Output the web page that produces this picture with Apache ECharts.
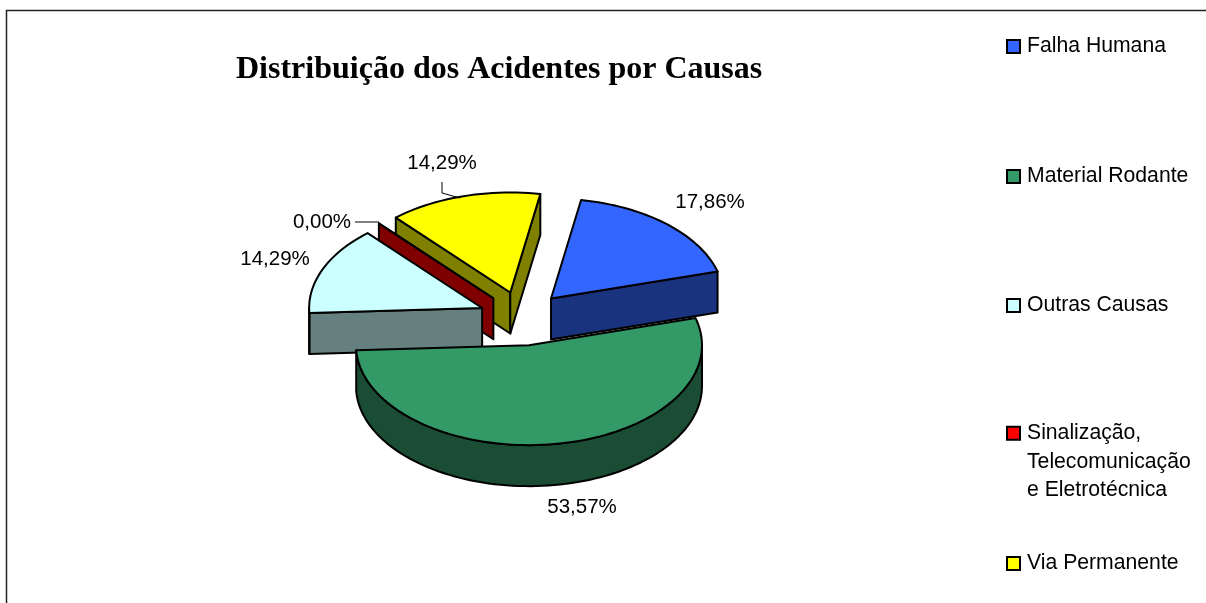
<!DOCTYPE html>
<html>
<head>
<meta charset="utf-8">
<style>
  html, body { margin: 0; padding: 0; background: #fff; }
  #chart { width: 1206px; height: 603px; }
</style>
<script src="https://cdn.jsdelivr.net/npm/echarts@6/dist/echarts.min.js"></script>
</head>
<body>
<div id="chart"></div>
<script>
const categories = ['Falha Humana', 'Material Rodante', 'Outras Causas', 'Sinalização, Telecomunicação e Eletrotécnica', 'Via Permanente'];
const percentages = [17.86, 53.57, 14.29, 0, 14.29];
const topColors = ['#3366FF', '#339966', '#CCFFFF', '#FF0000', '#FFFF00'];
const sideColors = ['#1A337F', '#1A4D33', '#668080', '#800000', '#808000'];

// pie geometry, same role as center/radius on a normal pie
const cx = 522, cy = 318.5, rx = 173, ry = 100, depth = 41;
const explodeX = 0.25, explodeY = 0.27;
const startAngle = 10;

// back to front, the green slice has to cover the side of the cyan one
const zOrder = [4, 5, 3, 2, 1];
const labelCenters = [[710, 202], [582, 507], [275, 259], [322, 222], [442, 163]];
// leader lines (the other slices have none)
const leaders = { 3: [[355, 222], [379, 222]], 4: [[442, 182], [442, 193], [460, 198]] };

const total = percentages.reduce((a, b) => a + b, 0);
const rad = d => d * Math.PI / 180;

function sliceAngles(i) {
  let a = startAngle;
  for (let k = 0; k < i; k++) a += percentages[k] / total * 360;
  return [a, a + percentages[i] / total * 360];
}

function rimPoint(apex, deg, drop) {
  return [apex[0] + rx * Math.sin(rad(deg)), apex[1] - ry * Math.cos(rad(deg)) + (drop || 0)];
}

function faceShape(points, fill) {
  return {
    type: 'polygon',
    shape: { points: points },
    style: { fill: fill, stroke: '#000', lineWidth: 2, lineJoin: 'round' }
  };
}

function arcPoints(apex, from, to, drop) {
  const pts = [];
  const steps = Math.max(1, Math.ceil(Math.abs(to - from) / 2));
  for (let s = 0; s <= steps; s++) pts.push(rimPoint(apex, from + (to - from) * s / steps, drop));
  return pts;
}

function renderSlice(i) {
  return function (params, api) {
    const [a1, a2] = sliceAngles(i);
    const mid = (a1 + a2) / 2;
    const apex = [cx + explodeX * rx * Math.sin(rad(mid)), cy - explodeY * ry * Math.cos(rad(mid))];
    const apexLow = [apex[0], apex[1] + depth];
    const children = [];

    // cut faces, only the ones turned toward the viewer
    if (Math.sin(rad(a1)) < 0) {
      children.push(faceShape([apex, rimPoint(apex, a1), rimPoint(apex, a1, depth), apexLow], sideColors[i]));
    }
    if (Math.sin(rad(a2)) > 0) {
      children.push(faceShape([apex, rimPoint(apex, a2), rimPoint(apex, a2, depth), apexLow], sideColors[i]));
    }
    // outer wall, front half of the ellipse
    const wallFrom = Math.max(a1, 90), wallTo = Math.min(a2, 270);
    if (wallTo > wallFrom) {
      const upper = arcPoints(apex, wallFrom, wallTo, 0);
      const lower = arcPoints(apex, wallFrom, wallTo, depth).reverse();
      children.push(faceShape(upper.concat(lower), sideColors[i]));
    }
    // top
    children.push(faceShape([apex].concat(arcPoints(apex, a1, a2, 0)), topColors[i]));

    if (leaders[i]) {
      children.push({
        type: 'polyline',
        shape: { points: leaders[i] },
        style: { fill: null, stroke: '#000', lineWidth: 1 }
      });
    }
    children.push({
      type: 'text',
      style: {
        text: api.value(0).toFixed(2).replace('.', ',') + '%',
        x: labelCenters[i][0],
        y: labelCenters[i][1],
        align: 'center',
        verticalAlign: 'middle',
        fill: '#000',
        font: '20.5px "Liberation Sans"'
      }
    });
    return { type: 'group', children: children };
  };
}

const legendTops = [36, 166, 295, 362, 553];

const myChart = echarts.init(document.getElementById('chart'), null, { renderer: 'canvas' });
myChart.setOption({
  animation: false,
  backgroundColor: '#fff',
  title: {
    text: 'Distribuição dos Acidentes por Causas',
    left: 236,
    top: 54,
    padding: 0,
    textStyle: { fontFamily: 'Liberation Serif', fontWeight: 'bold', fontSize: 32, color: '#000' }
  },
  legend: categories.map((name, i) => {
    const multi = name.indexOf(',') >= 0;
    return {
      data: [name],
      left: 1006,
      top: legendTops[i],
      padding: 0,
      icon: 'rect',
      itemWidth: 13,
      itemHeight: 13,
      selectedMode: false,
      itemStyle: { borderColor: '#000', borderWidth: 2 },
      // the legend centres text on the marker, two blank lines keep line one level with it
      formatter: n => multi ? '\n\n' + n.replace(', ', ',\n').replace(' e ', '\ne ') : n,
      textStyle: {
        fontFamily: 'Liberation Sans',
        fontSize: 21.2,
        color: '#000',
        lineHeight: multi ? 28.5 : undefined,
        padding: [0, 0, 0, 2]
      }
    };
  }),
  graphic: [{
    type: 'polyline',
    silent: true,
    shape: { points: [[6.5, 603], [6.5, 10.5], [1206, 10.5]] },
    style: { fill: null, stroke: '#222', lineWidth: 1.5 }
  }],
  series: categories.map((name, i) => ({
    type: 'custom',
    name: name,
    coordinateSystem: 'none',
    silent: true,
    z: zOrder[i] + 2,
    itemStyle: { color: topColors[i] },
    data: [[percentages[i]]],
    renderItem: renderSlice(i)
  }))
});
</script>
</body>
</html>
